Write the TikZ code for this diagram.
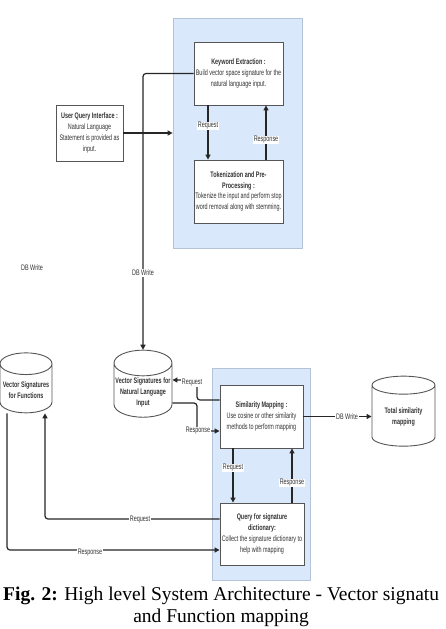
\documentclass[tikz,border=0pt]{standalone}
\usepackage{fontspec}
\setmainfont{Liberation Serif}
\newfontfamily\nar[FakeStretch=0.68]{Liberation Sans}
\usetikzlibrary{arrows.meta,shapes.geometric,calc}
\definecolor{panelfill}{HTML}{DAE8FC}
\definecolor{paneldraw}{HTML}{B4C3D8}
\definecolor{boxdraw}{HTML}{555555}
\definecolor{linec}{HTML}{262626}
\definecolor{txtc}{HTML}{333333}
\begin{document}
\begin{tikzpicture}[x=1pt,y=-1pt,
 panel/.style={draw=paneldraw, fill=panelfill, line width=0.8pt, inner sep=0pt},
 box/.style={draw=boxdraw, fill=white, line width=0.9pt, align=center, font=\nar\fontsize{8}{10.8}\selectfont, text=txtc, inner sep=1pt},
 cyl/.style={cylinder, shape border rotate=90, aspect=0.45, draw=boxdraw, fill=white, line width=0.9pt, align=center, font=\nar\bfseries\fontsize{8}{11}\selectfont, text=txtc, inner sep=1pt},
 conn/.style={draw=linec, line width=1.2pt, rounded corners=3pt},
 arr/.style={conn, -{Triangle[length=5pt,width=5pt]}},
 lab/.style={fill=white, inner sep=0.8pt, font=\nar\fontsize{8}{9}\selectfont, text=txtc}
]
\useasboundingbox (0,0) rectangle (445,629);
\fill[white] (0,0) rectangle (445,629);

% panels
\node[panel, minimum width=129pt, minimum height=230pt] (p1) at (237.5,133) {};
\node[panel, minimum width=98pt, minimum height=212pt] (p2) at (261,474) {};

% boxes
\node[box, minimum width=67pt, minimum height=56pt] (uqi) at (89.5,133)
 {\textbf{User Query Interface :}\\ Natural Language\\ Statement is provided as\\ input.};
\node[box, minimum width=89pt, minimum height=63pt] (kw) at (238.5,73.5)
 {\textbf{Keyword Extraction :}\\ Build vector space signature for the\\ natural language input.};
\node[box, minimum width=89pt, minimum height=63pt] (tok) at (238.5,191.5)
 {\textbf{Tokenization and Pre-}\\ \textbf{Processing :}\\ Tokenize the input and perform stop\\ word removal along with stemming.};
\node[box, minimum width=83pt, minimum height=63pt] (sim) at (261.5,416.5)
 {\textbf{Similarity Mapping :}\\ Use cosine or other similarity\\ methods to perform mapping};
\node[box, minimum width=84pt, minimum height=62pt] (qry) at (262,534)
 {\textbf{Query for signature}\\ \textbf{dictionary:}\\ Collect the signature dictionary to\\ help with mapping};

% cylinders
\node[cyl, minimum width=52pt, minimum height=60pt] (fn) at (26,390)
 {Vector Signatures\\ for Functions};
\node[cyl, minimum width=58pt, minimum height=60pt] (nl) at (143,392)
 {Vector Signatures for\\ Natural Language\\ Input};
\node[cyl, minimum width=63pt, minimum height=70pt] (tot) at (403.5,417)
 {Total similarity\\ mapping};

% stray label
\node[lab] (dbw0) at (32,268) {DB Write};

% connectors
\draw[arr] (uqi.east) -- (uqi.east -| p1.west);
\draw[arr] (kw.west) -| (nl.north);
\node[lab] (dbw1) at (143,273) {DB Write};

\draw[arr] (kw.south -| 208,0) -- (tok.north -| 208,0);
\node[lab] (rq1) at (208,126) {Request};
\draw[arr] (tok.north -| 266,0) -- (kw.south -| 266,0);
\node[lab] (rs1) at (266,140) {Response};

\draw[arr] (sim.west |- 0,400) -- (197,400) -- (197,380) -- (nl.east |- 0,380);
\node[lab] (rq2) at (192,383) {Request};
\draw[arr] (nl.east |- 0,403) -- (197,403) -- (197,431) -- (sim.west |- 0,431);
\node[lab] (rs2) at (198,431) {Response};

\draw[arr] (sim.east) -- (tot.west |- sim.east);
\node[lab] (dbw2) at (347,417) {DB Write};

\draw[arr] (sim.south -| 233,0) -- (qry.north -| 233,0);
\node[lab] (rq3) at (233,468) {Request};
\draw[arr] (qry.north -| 292,0) -- (sim.south -| 292,0);
\node[lab] (rs3) at (292,483) {Response};

\draw[arr] (qry.west |- 0,519) -- (45,519) -- (fn.south -| 45,0);
\node[lab] (rq4) at (140,520) {Request};
\draw[arr] (fn.south -| 7,0) -- (7,550) -- (qry.west |- 0,550);
\node[lab] (rs4) at (90,553) {Response};

% caption
\begin{scope}
\clip (0,0) rectangle (445,629);
\node[anchor=base west, inner sep=0pt, font=\fontsize{19.5}{22}\selectfont] (cap1) at (3,600) {\textbf{Fig. 2:} High level System Architecture - Vector signatu};
\node[anchor=base, inner sep=0pt, font=\fontsize{19.5}{22}\selectfont] (cap2) at (221,622) {and Function mapping};
\end{scope}
\end{tikzpicture}
\end{document}
